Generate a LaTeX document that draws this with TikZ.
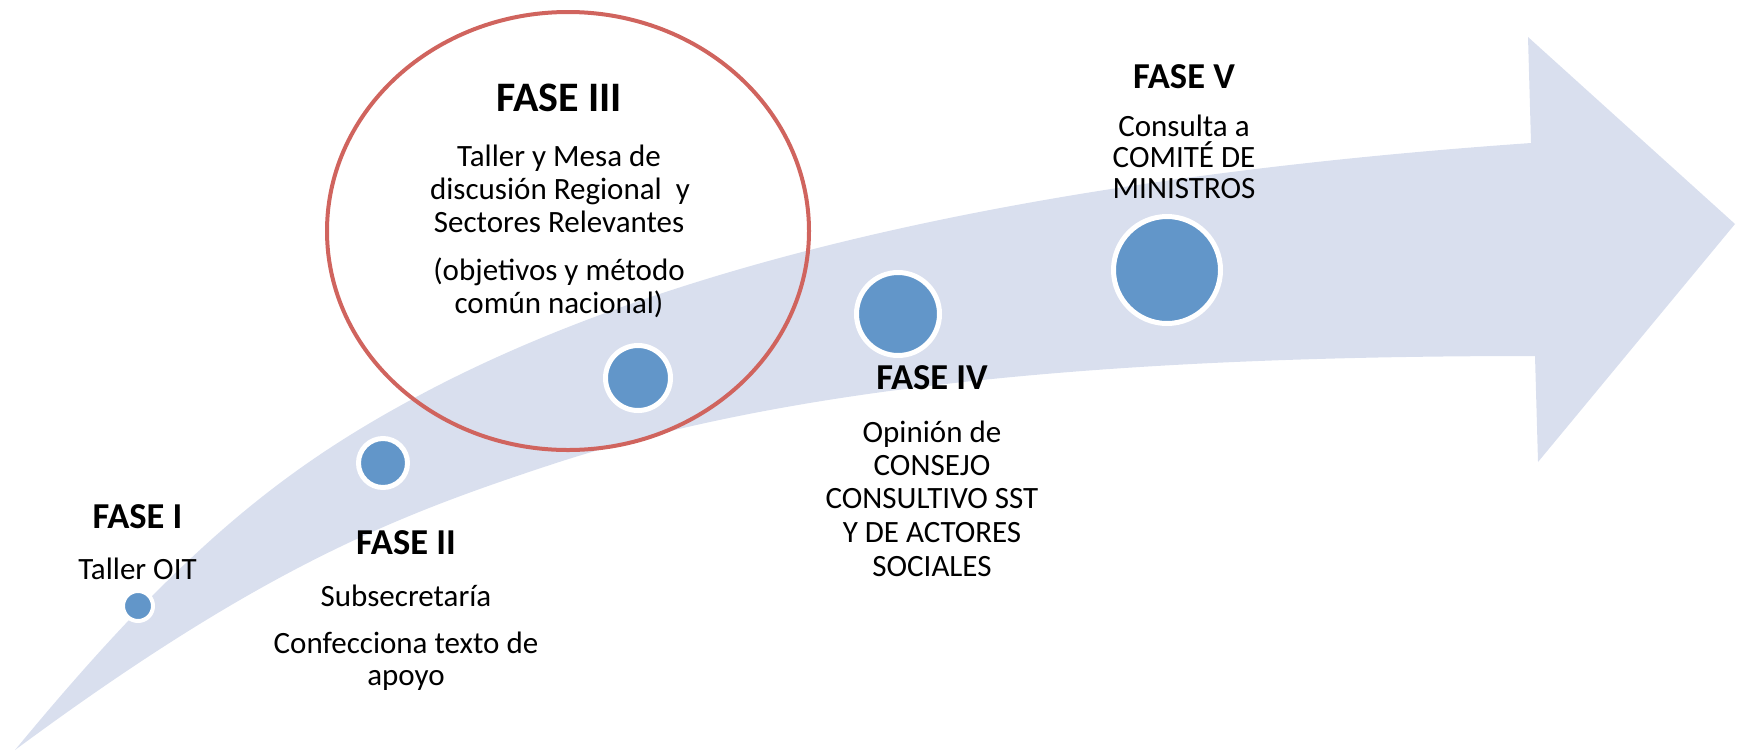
\documentclass[tikz,border=0pt]{standalone}
\usepackage{fontspec}
\setmainfont{Carlito}
\usetikzlibrary{shapes.geometric}
\definecolor{bandcol}{RGB}{217,223,238}
\definecolor{dotblue}{RGB}{98,150,201}
\definecolor{ringred}{RGB}{208,100,94}
\tikzset{
  bodytxt/.style={anchor=base,inner sep=0pt,font=\fontsize{31}{33}\selectfont},
  headtxt/.style={anchor=base,inner sep=0pt,font=\fontsize{36.5}{40}\selectfont\bfseries},
  bighead/.style={anchor=base,inner sep=0pt,font=\fontsize{42}{46}\selectfont\bfseries},
  dot/.style={circle,fill=dotblue,draw=white,inner sep=0pt},
  ring/.style={ellipse,draw=ringred,line width=4pt,inner sep=0pt}
}
\begin{document}
\begin{tikzpicture}[x=1pt,y=-1pt]
\useasboundingbox (0,0) rectangle (1739,753);
% curved band arrow
\fill[bandcol] (15,750) .. controls (175,556) and (277,473) .. (407,402)
  .. controls (657,264.5) and (1031,178) .. (1531,143)
  -- (1528,37) -- (1735,224) -- (1538,462) -- (1535,356)
  .. controls (1135,356) and (800,382.5) .. (550,465)
  .. controls (400,514.5) and (265,565) .. (15,750) -- cycle;
% dots
\node[dot,line width=4pt,minimum size=30pt] (d1) at (138,606) {};
\node[dot,line width=5pt,minimum size=49pt] (d2) at (383,463) {};
\node[dot,line width=5pt,minimum size=65pt] (d3) at (638,378) {};
\node[dot,line width=5pt,minimum size=83pt] (d4) at (898,314) {};
\node[dot,line width=5pt,minimum size=107pt] (d5) at (1167,270) {};
% ring around phase III
\node[ring,minimum width=482pt,minimum height=438pt] (r3) at (568,231) {};
% FASE I
\node[headtxt] (h1) at (137.5,528) {FASE I};
\node[bodytxt] (b1a) at (137.5,579) {Taller OIT};
% FASE II
\node[headtxt] (h2) at (406,554) {FASE II};
\node[bodytxt] (b2a) at (406,606) {Subsecretaría};
\node[bodytxt] (b2b) at (406,653) {Confecciona texto de};
\node[bodytxt] (b2c) at (406,685) {apoyo};
% FASE III
\node[bighead] (h3) at (559,111) {FASE III};
\node[bodytxt] (b3a) at (559,166) {Taller y Mesa de};
\node[bodytxt] (b3b) at (560,199) {discusión Regional\ \ y};
\node[bodytxt] (b3c) at (559,232) {Sectores Relevantes};
\node[bodytxt] (b3d) at (559,280) {(objetivos y método};
\node[bodytxt] (b3e) at (559,313) {común nacional)};
% FASE IV
\node[headtxt] (h4) at (932,389) {FASE IV};
\node[bodytxt] (b4a) at (932,442) {Opinión de};
\node[bodytxt] (b4b) at (932,475) {CONSEJO};
\node[bodytxt] (b4c) at (932,508) {CONSULTIVO SST};
\node[bodytxt] (b4d) at (932,542) {Y DE ACTORES};
\node[bodytxt] (b4e) at (932,576) {SOCIALES};
% FASE V
\node[headtxt] (h5) at (1184,88) {FASE V};
\node[bodytxt] (b5a) at (1184,136) {Consulta a};
\node[bodytxt] (b5b) at (1184,167) {COMITÉ DE};
\node[bodytxt] (b5c) at (1184,198) {MINISTROS};
\end{tikzpicture}
\end{document}
